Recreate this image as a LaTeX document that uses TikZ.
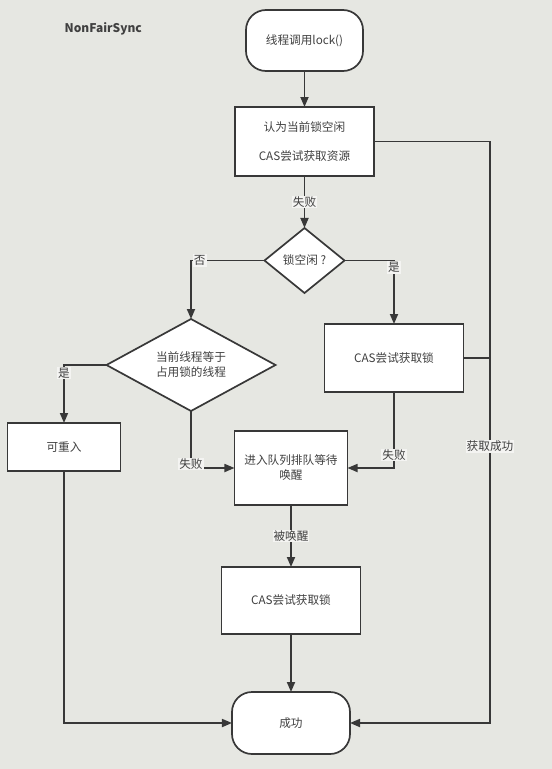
\documentclass[tikz,border=0pt]{standalone}
\usepackage{fontspec}
\setmainfont{Noto Sans CJK SC}
\usetikzlibrary{positioning,arrows.meta,shapes.geometric}
\definecolor{bgc}{HTML}{E6E7E2}
\definecolor{mline}{HTML}{383838}
\definecolor{mtext}{HTML}{404040}
\tikzset{
  >={Triangle[length=10bp,width=8bp]}, % filled triangle heads
  base/.style={draw=mline,line width=1.7bp,fill=white,text=mtext,outer sep=0,inner sep=2bp,align=center},
  term/.style={base,rectangle,rounded corners=20bp},
  proc/.style={base,rectangle},
  deci/.style={base,diamond,inner sep=0},
  connect/.style={mline,line width=1.7bp},
  connect arrow/.style={connect,->},
  lbl/.style={fill=white!55!bgc,text=mtext,inner sep=1bp}
}

\begin{document}
\begin{tikzpicture}[every node/.style={font=\fontsize{11.7}{15}\selectfont}]

  % Page background
  \fill[bgc] (-304.5bp,40.5bp) rectangle (247.5bp,-728.5bp);

  % Start and first try
  \node[term,minimum width=117bp,minimum height=61bp] (start) {线程调用lock()};
  \node[proc,minimum width=139bp,minimum height=69bp,below=36bp of start] (try) {认为当前锁空闲\\[14bp]CAS尝试获取资源};
  \node[font=\bfseries\fontsize{12}{14}\selectfont,text=mtext,inner sep=0,left=104bp of start,yshift=11.5bp] (title) {NonFairSync};

  % Decisions
  \node[deci,minimum width=80bp,minimum height=65bp,aspect=1.23,below=52bp of try] (free) {锁空闲 ?};
  \node[deci,minimum width=169bp,minimum height=92bp,aspect=1.84,below=26bp of free,xshift=-113.5bp] (owner) {当前线程等于\\占用锁的线程};

  % Middle row
  \node[proc,minimum width=139bp,minimum height=68bp,below=31bp of free,xshift=89.5bp] (cas) {CAS尝试获取锁};
  \node[proc,minimum width=113bp,minimum height=48bp,below=12bp of owner,xshift=-127bp] (reenter) {可重入};
  \node[proc,minimum width=113bp,minimum height=74bp,below=20bp of owner,xshift=100bp] (queue) {进入队列排队等待\\唤醒};

  % Bottom
  \node[proc,minimum width=139bp,minimum height=67bp,below=62bp of queue] (recas) {CAS尝试获取锁};
  \node[term,minimum width=118bp,minimum height=62bp,below=58bp of recas] (ok) {成功};
  \coordinate[right=116bp of try.east] (rtop);

  % Connections
  \draw[connect arrow] (start) -- (try);
  \draw[connect arrow] (try) -- (free) node[lbl,midway] {失败};
  \draw[connect arrow] (free.west) -| (owner.north) node[lbl,pos=0.44] {否};
  \draw[connect arrow] (free.east) -| (cas.north) node[lbl,pos=0.555] {是};
  \draw[connect arrow] (owner.west) -| (reenter.north) node[lbl,pos=0.57] {是};
  \draw[connect arrow] (owner.south) |- (queue.west) node[lbl,pos=0.465] {失败};
  \draw[connect arrow] (cas.south) |- (queue.east) node[lbl,pos=0.414] {失败};
  \draw[connect arrow] (queue) -- (recas) node[lbl,midway] {被唤醒};
  \draw[connect arrow] (recas) -- (ok);
  \draw[connect arrow] (reenter.south) |- (ok.west);
  \draw[connect arrow] (try.east) -- (rtop) |- (ok.east) node[lbl,pos=0.262] {获取成功};
  \draw[connect] (cas.east) -- (cas.east -| rtop);

\end{tikzpicture}
\end{document}
